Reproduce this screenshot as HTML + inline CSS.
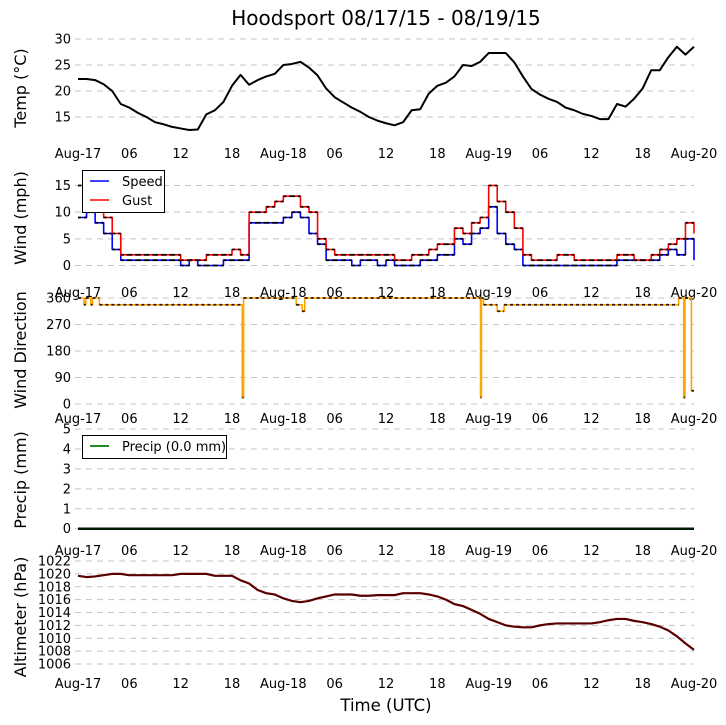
<!DOCTYPE html>
<html><head><meta charset="utf-8"><style>
body{margin:0;background:#fff;}
svg{display:block;font-family:"DejaVu Sans","Liberation Sans",sans-serif;}
</style></head><body>
<svg id="chart" width="726" height="725" viewBox="0 0 726 725" xmlns="http://www.w3.org/2000/svg">
<text x="386" y="25" font-size="20" text-anchor="middle">Hoodsport 08/17/15 - 08/19/15</text>
<text x="386" y="711" font-size="16.5" text-anchor="middle">Time (UTC)</text>
</svg>
<script>
const xTickLabels = ["Aug-17","06","12","18","Aug-18","06","12","18","Aug-19","06","12","18","Aug-20"];
const tempValues = [22.3,22.3,22.1,21.3,20.0,17.5,16.8,15.8,15.0,14.0,13.6,13.1,12.8,12.5,12.6,15.5,16.3,17.9,21.0,23.1,21.2,22.1,22.8,23.3,25.0,25.2,25.6,24.5,23.0,20.5,18.8,17.8,16.8,16.0,15.0,14.3,13.8,13.4,14.0,16.3,16.5,19.5,21.0,21.6,22.8,25.0,24.8,25.6,27.3,27.3,27.3,25.5,22.8,20.4,19.3,18.5,17.9,16.8,16.3,15.6,15.2,14.6,14.6,17.5,17.0,18.5,20.5,24.0,24.0,26.5,28.5,27.0,28.5];
const speedValues = [9,10,8,6,3,1,1,1,1,1,1,1,0,1,0,0,0,1,1,1,8,8,8,8,9,10,9,6,4,1,1,1,0,1,1,0,1,0,0,0,1,1,2,2,5,4,6,7,11,6,4,3,0,0,0,0,0,0,0,0,0,0,0,1,1,1,1,1,2,3,2,5,1];
const gustValues = [15,16,12,9,6,2,2,2,2,2,2,2,1,1,1,2,2,2,3,2,10,10,11,12,13,13,11,10,5,3,2,2,2,2,2,2,2,1,1,2,2,3,4,4,7,6,8,9,15,12,10,7,2,1,1,1,2,2,1,1,1,1,1,2,2,1,1,2,3,4,5,8,6];
const dirTimes = [0,0.7,0.9,1.5,1.7,2.5,19.2,19.35,25.5,26.2,26.5,47.05,47.15,47.4,49,49.8,70.2,70.8,70.95,71.7,72];
const dirValues = [360,337,360,337,360,337,22,360,337,315,360,22,360,337,315,337,360,22,360,45,45];
const precipValues = [0,0];
const altValues = [1019.7,1019.5,1019.6,1019.8,1020,1020,1019.8,1019.8,1019.8,1019.8,1019.8,1019.8,1020,1020,1020,1020,1019.7,1019.7,1019.7,1019,1018.5,1017.5,1017,1016.8,1016.2,1015.8,1015.6,1015.8,1016.2,1016.5,1016.8,1016.8,1016.8,1016.6,1016.6,1016.7,1016.7,1016.7,1017,1017,1017,1016.8,1016.5,1016,1015.3,1015,1014.4,1013.8,1013,1012.5,1012,1011.8,1011.7,1011.7,1012,1012.2,1012.3,1012.3,1012.3,1012.3,1012.3,1012.5,1012.8,1013,1013,1012.7,1012.5,1012.2,1011.8,1011.2,1010.3,1009.2,1008.2];
const tempTicks = [15,20,25,30];
const windTicks = [0,5,10,15];
const dirTicks = [0,90,180,270,360];
const precipTicks = [0,1,2,3,4,5];
const altTicks = [1006,1008,1010,1012,1014,1016,1018,1020,1022];

const NS="http://www.w3.org/2000/svg";
const svg=document.getElementById('chart');
const X0=78,X1=694,H=72;
function xs(h){return X0+(X1-X0)*h/H;}
function mk(tag,attrs,parent){const e=document.createElementNS(NS,tag);for(const k in attrs)e.setAttribute(k,attrs[k]);(parent||svg).appendChild(e);return e;}
function yScale(v0,y0,v1,y1){return v=>y0+(v-v0)*(y1-y0)/(v1-v0);}

function panel(name,ticks,ys,xlabY,title,titleY){
  const g=mk('g',{});
  
  
  ticks.forEach(t=>{
    const y=ys(t);
    const l=mk('line',{x1:75,x2:X1,y1:y,y2:y,stroke:'#c4c4c4','stroke-width':1,'stroke-dasharray':'6,5'},g);
    
    
    const tx=mk('text',{x:71,y:y+4.5,'font-size':13,'text-anchor':'end'},g);
    tx.textContent=t;
    
    
  });
  xTickLabels.forEach((lab,i)=>{
    const tx=mk('text',{x:xs(i*6),y:xlabY,'font-size':13,'text-anchor':'middle'},g);
    tx.textContent=lab;
    
    
  });
  const tt=mk('text',{x:0,y:0,'font-size':16,'text-anchor':'middle',transform:`translate(26,${titleY}) rotate(-90)`},g);
  tt.innerHTML=title;
  
  
  return g;
}
function stepPath(times,vals,ys){
  let d='';
  for(let i=0;i<vals.length;i++){
    const x=xs(times[i]),y=ys(vals[i]);
    if(i===0)d+=`M${x},${y}`;else d+=`H${x}V${y}`;
  }
  return d;
}
function linePath(times,vals,ys){
  return vals.map((v,i)=>(i?'L':'M')+xs(times[i])+','+ys(v)).join('');
}
function hours(n){const a=[];for(let i=0;i<n;i++)a.push(i);return a;}
function series(g,name,times,vals,ys,color,dark,smooth,w){
  const p=mk('path',{d:smooth?linePath(times,vals,ys):stepPath(times,vals,ys),fill:'none',stroke:color,'stroke-width':w||1.6,'stroke-linejoin':'round'},g);
  
  
  if(dark){
    for(let i=0;i<vals.length-1;i++){
      const s=mk('line',{x1:xs(times[i]),x2:xs(times[i+1]),y1:ys(vals[i]),y2:ys(vals[i]),stroke:dark,'stroke-width':1.8,'stroke-dasharray':'3,3'},g);
      
      
    }
  }
}

// Temperature
const yT=yScale(30,39,15,117);
const gT=panel('temp',tempTicks,yT,158,'Temp (<tspan>°</tspan>C)',88);
series(gT,'temp',hours(tempValues.length),tempValues,yT,'#000',null,true,2);

// Wind
const yW=yScale(0,265.5,15,185.5);
const gW=panel('wind',windTicks,yW,297,'Wind (mph)',218);
series(gW,'speed',hours(speedValues.length),speedValues,yW,'#0000ff','#000');
series(gW,'gust',hours(gustValues.length),gustValues,yW,'#ff0000','#200000');
(function(){
  const lg=mk('g',{},gW);
  
  
  mk('rect',{x:82.5,y:170.5,width:82,height:42,fill:'#fff',stroke:'#000','stroke-width':1},lg);
  mk('line',{x1:90,x2:109,y1:181,y2:181,stroke:'#0000ff','stroke-width':1.6},lg);
  mk('line',{x1:90,x2:109,y1:200,y2:200,stroke:'#ff0000','stroke-width':1.6},lg);
  const a=mk('text',{x:122,y:186,'font-size':13},lg);a.textContent='Speed';
  
  
  const b=mk('text',{x:122,y:205,'font-size':13},lg);b.textContent='Gust';
  
  
})();

// Direction
const yD=yScale(0,404,360,298);
const gD=panel('direction',dirTicks,yD,423,'Wind Direction',350);
series(gD,'direction',dirTimes,dirValues,yD,'#ffa500','#2a1500');

// Precip
const yP=yScale(0,528.7,5,429);
const gP=panel('precip',precipTicks,yP,555,'Precip (mm)',480);
(function(){
  const p=mk('line',{x1:X0,x2:X1,y1:yP(precipValues[0]),y2:yP(precipValues[1]),stroke:'#001a00','stroke-width':2.5},gP);
  
  
  const lg=mk('g',{},gP);
  
  
  mk('rect',{x:82.5,y:435.5,width:144,height:23,fill:'#fff',stroke:'#000','stroke-width':1},lg);
  mk('line',{x1:90,x2:109,y1:446,y2:446,stroke:'#228b22','stroke-width':2},lg);
  const t=mk('text',{x:122,y:451,'font-size':13},lg);t.textContent='Precip (0.0 mm)';
  
  
})();

// Altimeter
const yA=yScale(1022,561,1006,664);
const gA=panel('altimeter',altTicks,yA,688,'Altimeter (hPa)',617);
series(gA,'altimeter',hours(altValues.length),altValues,yA,'#5a0000',null,true,2.2);
</script>
</body></html>
